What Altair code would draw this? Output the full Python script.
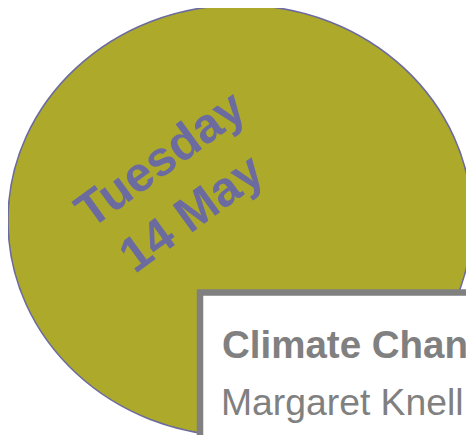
import altair as alt
import pandas as pd

# Text content
date_lines = ["Tuesday", "14 May"]
box_lines = ["Climate Change", "Margaret Knell"]

OLIVE = "#ADAA2B"
PURPLE = "#6B6B9F"
GREY = "#808080"

# ellipse outline as a custom symbol path (unit width, ry/rx = 0.929)
k = 0.5523
ry = 0.929
ellipse_path = (
    f"M -1 0 C -1 {-ry*k:.4f} {-k} {-ry} 0 {-ry} "
    f"C {k} {-ry} 1 {-ry*k:.4f} 1 0 "
    f"C 1 {ry*k:.4f} {k} {ry} 0 {ry} "
    f"C {-k} {ry} -1 {ry*k:.4f} -1 0 Z"
)

one = pd.DataFrame({"k": [0]})

ellipse = alt.Chart(one).mark_point(
    shape=ellipse_path, filled=True, fill=OLIVE, stroke=PURPLE,
    strokeWidth=1.6, fillOpacity=1, strokeOpacity=1, size=464 * 464,
).encode(x=alt.value(232), y=alt.value(212.6))

def rot_text(label, x, y):
    return alt.Chart(pd.DataFrame({"label": [label]})).mark_text(
        angle=324, fontSize=49, fontWeight="bold", font="Liberation Sans",
        color=PURPLE, align="center", baseline="middle",
    ).encode(text="label:N", x=alt.value(x), y=alt.value(y))

t1 = rot_text(date_lines[0], 153, 152)
t2 = rot_text(date_lines[1], 184, 206)

box = alt.Chart(one).mark_rect(
    fill="white", stroke=GREY, strokeWidth=6.5,
).encode(x=alt.value(192), x2=alt.value(540), y=alt.value(284.5), y2=alt.value(500))

b1 = alt.Chart(pd.DataFrame({"label": [box_lines[0]]})).mark_text(
    fontSize=38.5, fontWeight="bold", font="Liberation Sans", color=GREY,
    align="left", baseline="alphabetic",
).encode(text="label:N", x=alt.value(214), y=alt.value(350))

b2 = alt.Chart(pd.DataFrame({"label": [box_lines[1]]})).mark_text(
    fontSize=37.3, font="Liberation Sans", color=GREY,
    align="left", baseline="alphabetic",
).encode(text="label:N", x=alt.value(213), y=alt.value(407))

chart = alt.layer(ellipse, t1, t2, box, b1, b2).properties(
    width=458, height=427, padding=0,
    autosize=alt.AutoSizeParams(type="none"),
    background="white",
).configure_view(stroke=None)

chart.save("out.html", embed_options={"renderer": "svg", "actions": False})
